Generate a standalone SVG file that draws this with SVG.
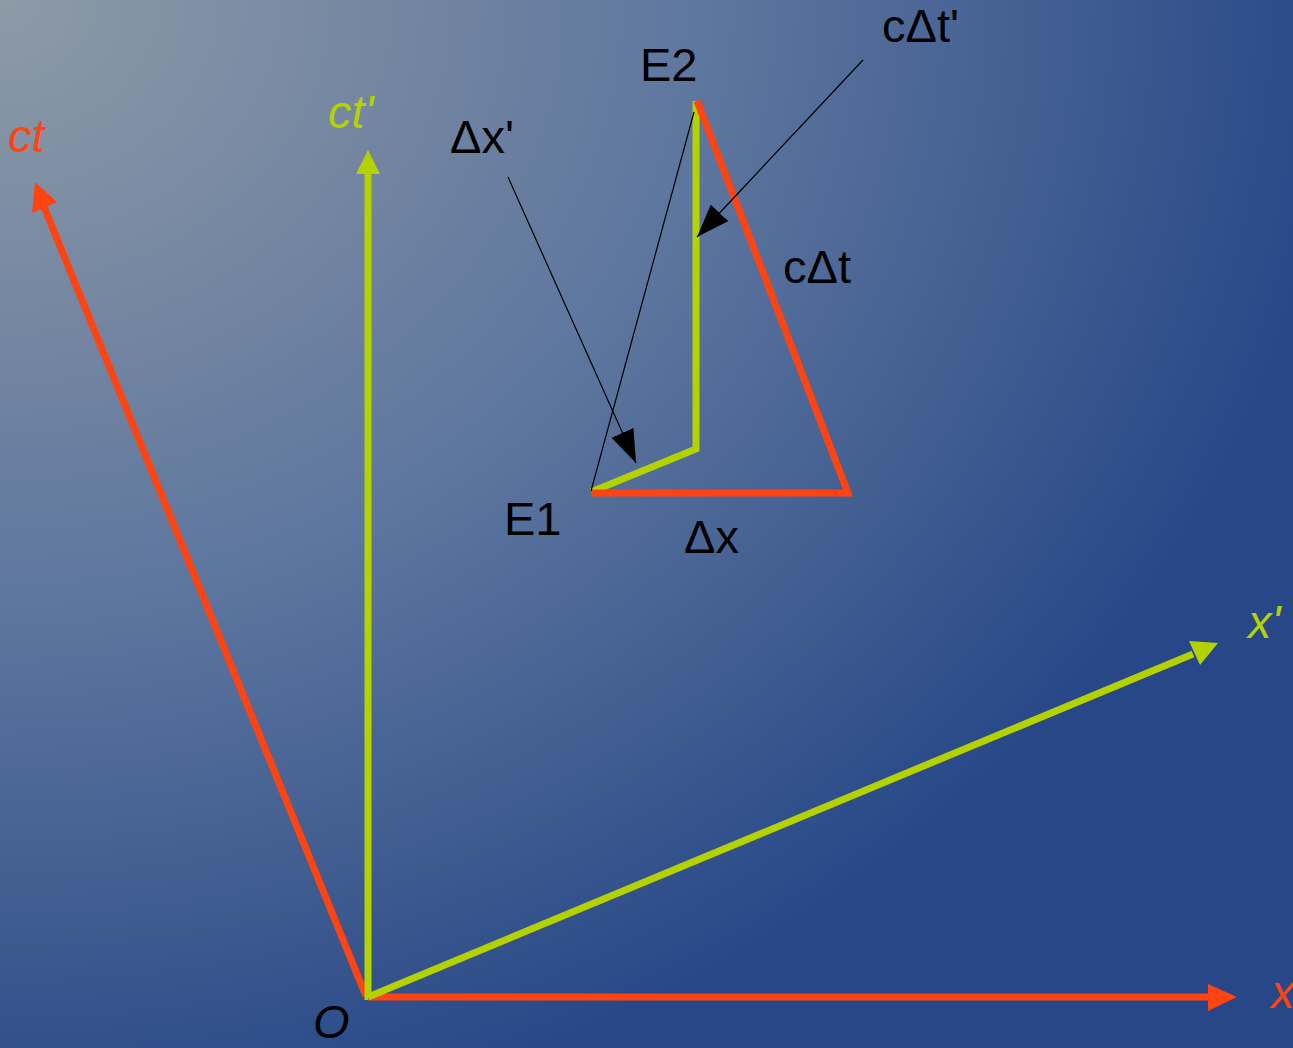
<svg xmlns="http://www.w3.org/2000/svg" width="1293" height="1048" viewBox="0 0 1293 1048">
<defs>
<radialGradient id="bg" gradientUnits="userSpaceOnUse" cx="0" cy="0" r="1" gradientTransform="scale(1350,1150)">
<stop offset="0" stop-color="#8d9ba7"/>
<stop offset="0.3" stop-color="#7385a1"/>
<stop offset="0.52" stop-color="#5e779f"/>
<stop offset="0.82" stop-color="#3d5a8f"/>
<stop offset="0.93" stop-color="#2f4f8b"/>
<stop offset="1" stop-color="#274788"/>
</radialGradient>
<marker id="hb" viewBox="0 0 10 10" refX="10" refY="5" markerWidth="33" markerHeight="24" orient="auto" markerUnits="userSpaceOnUse" preserveAspectRatio="none"><path d="M0,0 L10,5 L0,10 z" fill="#000"/></marker>
<style>
.red{stroke:#ff4411;stroke-width:7;fill:none}
.grn{stroke:#b4d200;stroke-width:7;fill:none}
.rh{fill:#ff4411}
.gh{fill:#b4d200}
.thin{stroke:#000;stroke-width:1.2;fill:none}
text{font-family:"Liberation Sans",Arial,sans-serif;font-size:47px;fill:#000}
.it{font-style:italic}
.tr{fill:#ff4411}
.tg{fill:#b4d200}
</style>
</defs>
<rect width="1293" height="1048" fill="url(#bg)"/>
<g id="connectors">
<line class="red" x1="366" y1="996" x2="44" y2="207"/>
<polygon class="rh" points="35,182 57,202 32,213"/>
<line class="grn" x1="368" y1="1000" x2="368" y2="172"/>
<polygon class="gh" points="368,150 380,174 356,174"/>
<line class="red" x1="368" y1="997" x2="1210" y2="997"/>
<polygon class="rh" points="1237,997 1208,984 1208,1011"/>
<line class="grn" x1="368" y1="997" x2="1193" y2="654"/>
<polygon class="gh" points="1218,643 1200,665 1189,641"/>
<polyline class="grn" points="696,101 696,449 591,492"/>
<polyline class="red" points="591,493 848,493 697,101"/>
<line class="thin" x1="591" y1="491" x2="694" y2="112"/>
<line class="thin" x1="863" y1="60" x2="697" y2="237" marker-end="url(#hb)"/>
<line class="thin" x1="508" y1="177" x2="636" y2="463" marker-end="url(#hb)"/>
</g>
<g id="axis-ct"><text class="it tr" x="8" y="152">ct</text></g>
<g id="axis-ctp"><text class="it tg" x="328" y="128">ct'</text></g>
<g id="axis-xp"><text class="it tg" x="1248" y="638">x'</text></g>
<g id="axis-x"><text class="it tr" x="1271" y="1008">x</text></g>
<g id="origin"><text class="it" x="313" y="1038">O</text></g>
<g id="E2"><text x="640" y="81">E2</text></g>
<g id="E1"><text x="504" y="535">E1</text></g>
<g id="dx"><text x="684" y="553">Δx</text></g>
<g id="cdt"><text x="783" y="283">cΔt</text></g>
<g id="cdtp"><text x="882" y="42">cΔt'</text></g>
<g id="dxp"><text x="450" y="153">Δx'</text></g>
</svg>
